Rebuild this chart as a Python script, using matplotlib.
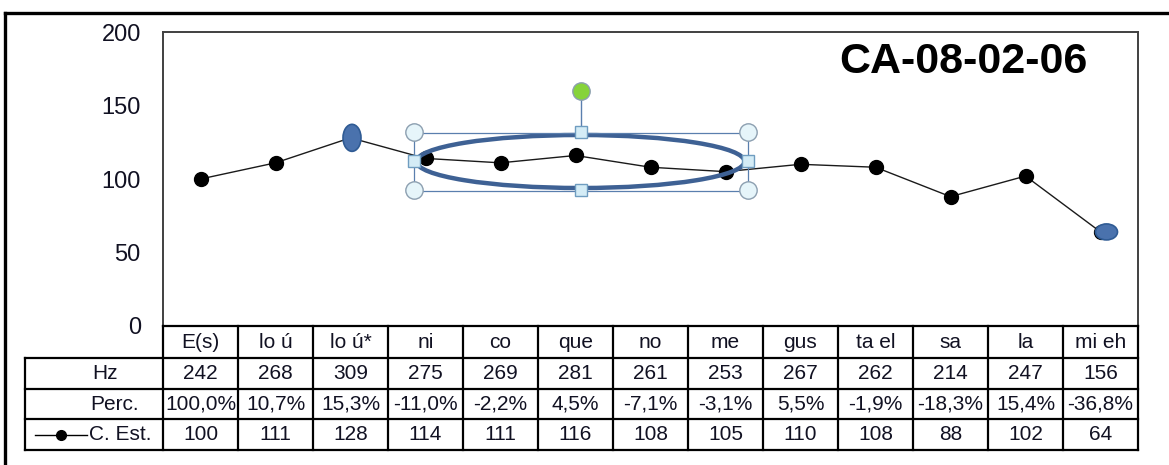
import matplotlib
matplotlib.use("Agg")
import matplotlib.pyplot as plt
from matplotlib.patches import Ellipse, Rectangle
from matplotlib.lines import Line2D
from matplotlib.transforms import Affine2D, IdentityTransform

plt.rcParams['font.family'] = ['Liberation Sans', 'DejaVu Sans']

# ---------------- data ----------------
categories = ["E(s)", "lo ú", "lo ú*", "ni", "co", "que", "no", "me", "gus", "ta el", "sa", "la", "mi eh"]
hz_values = [242, 268, 309, 275, 269, 281, 261, 253, 267, 262, 214, 247, 156]
perc_labels = ["100,0%", "10,7%", "15,3%", "-11,0%", "-2,2%", "4,5%", "-7,1%", "-3,1%",
               "5,5%", "-1,9%", "-18,3%", "15,4%", "-36,8%"]
c_est = [100, 111, 128, 114, 111, 116, 108, 105, 110, 108, 88, 102, 64]
y_ticks = [0, 50, 100, 150, 200]
title = "CA-08-02-06"
highlighted = [2, 12]          # selected points (blue)
circled = (3, 7)               # categories enclosed by the drawn ellipse

# ---------------- layout (pixels) ----------------
W, H = 1169, 465
X0, X1 = 163, 1138            # plot area left/right
Y_TOP, Y_BOT = 32, 326        # plot area top/bottom
ROW_Y = [326, 358, 389, 419, 450]
LABEL_LEFT = 25
TXT = '#111122'
FS = 15

fig = plt.figure(figsize=(W / 100, H / 100), dpi=100)
pix = Affine2D().scale(1 / W, -1 / H).translate(0, 1) + fig.transFigure

ax = fig.add_axes([X0 / W, 1 - Y_BOT / H, (X1 - X0) / W, (Y_BOT - Y_TOP) / H])
n = len(categories)
ax.set_xlim(-0.5, n - 0.5)
ax.set_ylim(0, 200)
ax.set_xticks([])
ax.set_yticks(y_ticks)
ax.set_yticklabels([str(t) for t in y_ticks], fontsize=17, color=TXT)
ax.tick_params(axis='y', length=0, pad=16)
for s in ax.spines.values():
    s.set_color('#404040')
    s.set_linewidth(1.4)

# line series
ax.plot(range(n), c_est, color='#1a1a1a', lw=1.0, marker='o', markersize=10,
        markerfacecolor='black', markeredgecolor='black', zorder=3)

# highlighted (selected) points
sizes = {2: (18, 27, 1.5), 12: (22, 16, 6)}
for i in highlighted:
    w, h, dx = sizes[i]
    cx, cy = ax.transData.transform((i, c_est[i]))
    e = Ellipse((cx + dx, cy), w, h, transform=IdentityTransform(),
                facecolor='#4a72ad', edgecolor='#2f5b94', lw=1.2, zorder=5)
    fig.add_artist(e)

# ---------------- title ----------------
fig.text(963 / W, 1 - 62 / H, title, fontsize=31, fontweight='bold',
         ha='center', va='center', color='black')

# ---------------- data table ----------------
CW = (X1 - X0) / n
tl = dict(transform=pix, color='black', lw=1.6, clip_on=False)
fig.add_artist(Line2D([X0, X1], [ROW_Y[0], ROW_Y[0]], **tl))
for y in ROW_Y[1:]:
    fig.add_artist(Line2D([LABEL_LEFT, X1], [y, y], **tl))
for i in range(n + 1):
    x = X0 + i * CW
    fig.add_artist(Line2D([x, x], [ROW_Y[0], ROW_Y[-1]], **tl))
fig.add_artist(Line2D([LABEL_LEFT, LABEL_LEFT], [ROW_Y[1], ROW_Y[-1]], **tl))

rows = [categories, [str(v) for v in hz_values], perc_labels, [str(v) for v in c_est]]
for r, vals in enumerate(rows):
    yc = (ROW_Y[r] + ROW_Y[r + 1]) / 2
    for i, v in enumerate(vals):
        fig.text((X0 + (i + 0.5) * CW) / W, 1 - yc / H, v, fontsize=FS,
                 ha='center', va='center', color=TXT)

# row labels
yc = (ROW_Y[1] + ROW_Y[2]) / 2
fig.text(105 / W, 1 - yc / H, "Hz", fontsize=FS, ha='center', va='center', color=TXT)
yc = (ROW_Y[2] + ROW_Y[3]) / 2
fig.text(115 / W, 1 - yc / H, "Perc.", fontsize=FS, ha='center', va='center', color=TXT)
yc = (ROW_Y[3] + ROW_Y[4]) / 2
fig.text(89 / W, 1 - yc / H, "C. Est.", fontsize=FS, ha='left', va='center', color=TXT)
fig.add_artist(Line2D([35, 87], [yc, yc], transform=pix, color='black', lw=1.0))
fig.add_artist(Line2D([61], [yc], transform=pix, marker='o', markersize=7,
                      color='black', lw=0))

# ---------------- drawn ellipse with selection handles ----------------
a, b = circled
(xa, _), (xb, _) = ax.transData.transform((a, 0)), ax.transData.transform((b, 0))
ex_c = (xa + xb) / 2 + 5
ey_c = 161.5
ew, eh = (xb - xa) + 28, 53
fig.add_artist(Ellipse((ex_c, ey_c), ew, eh, transform=pix, fill=False,
                       edgecolor='#3e6194', lw=3.2, zorder=6))
l, r, t, bt = ex_c - ew / 2 - 3, ex_c + ew / 2 + 3, ey_c - 29, ey_c + 29
fig.add_artist(Rectangle((l, t), r - l, bt - t, transform=pix, fill=False,
                         edgecolor='#5a7fae', lw=0.9, zorder=6))
fig.add_artist(Line2D([ex_c, ex_c], [t, 91], transform=pix, color='#5a7fae', lw=1.0, zorder=6))
for (px, py) in [(l, t), (r, t), (l, bt), (r, bt)]:
    fig.add_artist(Line2D([px], [py], transform=pix, marker='o', markersize=12.5,
                          markerfacecolor='#e6f5fa', markeredgecolor='#8c9fb0',
                          markeredgewidth=1.0, lw=0, zorder=7))
for (px, py) in [(ex_c, t), (ex_c, bt), (l, ey_c), (r, ey_c)]:
    fig.add_artist(Line2D([px], [py], transform=pix, marker='s', markersize=8.5,
                          markerfacecolor='#d4ecf6', markeredgecolor='#6f9dc0',
                          markeredgewidth=1.0, lw=0, zorder=7))
fig.add_artist(Line2D([ex_c], [91], transform=pix, marker='o', markersize=12.5,
                      markerfacecolor='#86d33a', markeredgecolor='#8c9fb0',
                      markeredgewidth=1.0, lw=0, zorder=7))

# ---------------- outer frame ----------------
fig.add_artist(Line2D([5, 5], [13, H + 5], transform=pix, color='black', lw=2.4))
fig.add_artist(Line2D([5, W + 5], [13, 13], transform=pix, color='black', lw=2.4))

fig.savefig("out.png", dpi=100, facecolor='white')
